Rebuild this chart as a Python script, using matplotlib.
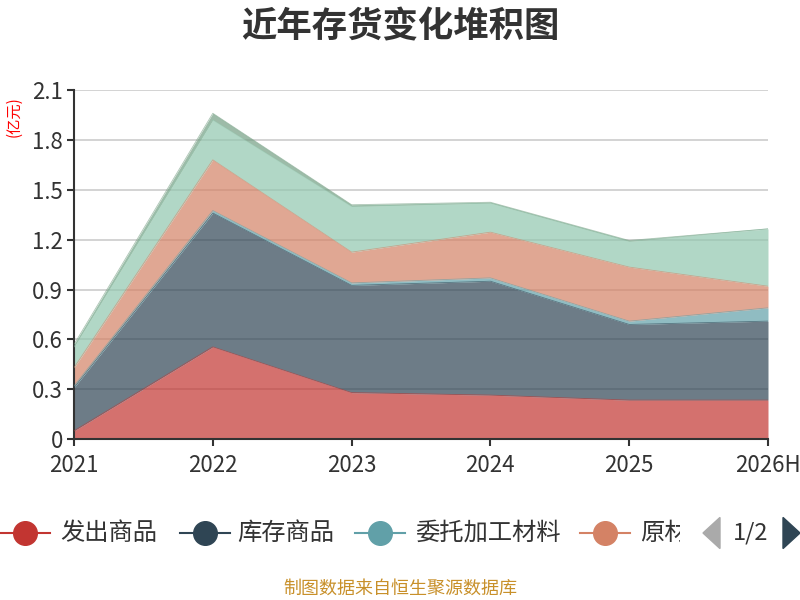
import matplotlib
matplotlib.use('Agg')
import matplotlib.pyplot as plt
from matplotlib.lines import Line2D
from matplotlib.patches import Polygon
import numpy as np

plt.rcParams['font.family'] = ['Noto Sans CJK SC', 'DejaVu Sans']

years = ['2021', '2022', '2023', '2024', '2025', '2026H']
# 亿元, stacked bottom to top
fachu = [0.05, 0.555, 0.28, 0.265, 0.235, 0.235]
kucun = [0.26, 0.805, 0.645, 0.685, 0.455, 0.475]
weituo = [0.01, 0.015, 0.015, 0.02, 0.02, 0.08]
yuancailiao = [0.11, 0.305, 0.185, 0.275, 0.325, 0.13]
zaichanpin = [0.125, 0.24, 0.275, 0.175, 0.155, 0.345]
zhouzhuan = [0.015, 0.04, 0.01, 0.005, 0.005, 0.0]

names = ['发出商品', '库存商品', '委托加工材料', '原材料', '在产品', '周转材料']
series = [fachu, kucun, weituo, yuancailiao, zaichanpin, zhouzhuan]
colors = ['#c23531', '#2f4554', '#61a0a8', '#d48265', '#91c7ae', '#749f83']

fig = plt.figure(figsize=(8, 6), dpi=100)
ax = fig.add_axes([0.0925, 0.268, 0.8675, 0.582])

x = np.arange(len(years))
bottom = np.zeros(len(years))
for vals, c in zip(series, colors):
    top = bottom + np.array(vals)
    ax.fill_between(x, bottom, top, color=c, alpha=0.7, linewidth=0, zorder=2)
    ax.plot(x, top, color=c, linewidth=0.6, alpha=0.6, zorder=3)
    bottom = top

ax.set_xlim(0, len(years) - 1)
ax.set_ylim(0, 2.1)
ax.set_yticks([0, 0.3, 0.6, 0.9, 1.2, 1.5, 1.8, 2.1])
ax.set_yticklabels(['0', '0.3', '0.6', '0.9', '1.2', '1.5', '1.8', '2.1'])
ax.set_xticks(x)
ax.set_xticklabels(years)
ax.grid(axis='y', color='#cccccc', linewidth=1.2, zorder=1)
ax.set_axisbelow(True)
for s in ['top', 'right']:
    ax.spines[s].set_visible(False)
for s in ['left', 'bottom']:
    ax.spines[s].set_color('#333333')
    ax.spines[s].set_linewidth(1.5)
ax.tick_params(axis='both', colors='#333333', labelsize=16, length=5, width=1.5)
ax.tick_params(axis='y', pad=3)
ax.tick_params(axis='x', pad=6)

fig.text(0.5, 0.955, '近年存货变化堆积图', ha='center', va='center',
         fontsize=25.5, fontweight='bold', color='#333333')
fig.text(0.017, 0.805, '(亿元)', ha='center', va='center', rotation=90,
         fontsize=11, color='red')

# legend row (page 1 of 2)
ly = 1 - 533 / 600
leg_items = [(25, 60), (205, 237), (380, 415), (605, 640)]
for (cx, tx), name, c in zip(leg_items, names[:4], colors[:4]):
    fig.add_artist(Line2D([(cx - 25) / 800, (cx + 25) / 800], [ly, ly],
                          color=c, linewidth=1.5, transform=fig.transFigure))
    fig.add_artist(Line2D([cx / 800], [ly], marker='o', markersize=17,
                          color=c, transform=fig.transFigure))
    t = fig.text(tx / 800, ly, name, ha='left', va='center', fontsize=17.5,
                 color='#333333')
    if name == '原材料':
        clip = matplotlib.transforms.Bbox.from_extents(0, 0, 680, 600)
        t.set_clip_box(clip)
        t.set_clip_on(True)

fig.add_artist(Polygon([[703 / 800, ly], [720 / 800, ly + 0.026], [720 / 800, ly - 0.026]],
                       closed=True, color='#aaaaaa', transform=fig.transFigure))
fig.text(751 / 800, ly, '1/2', ha='center', va='center', fontsize=17, color='#333333')
fig.add_artist(Polygon([[800 / 800, ly], [783 / 800, ly + 0.026], [783 / 800, ly - 0.026]],
                       closed=True, color='#2f4554', transform=fig.transFigure))

fig.text(0.5, 1 - 589 / 600, '制图数据来自恒生聚源数据库', ha='center', va='center',
         fontsize=13, color='#c8902a')

fig.savefig('out.png', dpi=100)
